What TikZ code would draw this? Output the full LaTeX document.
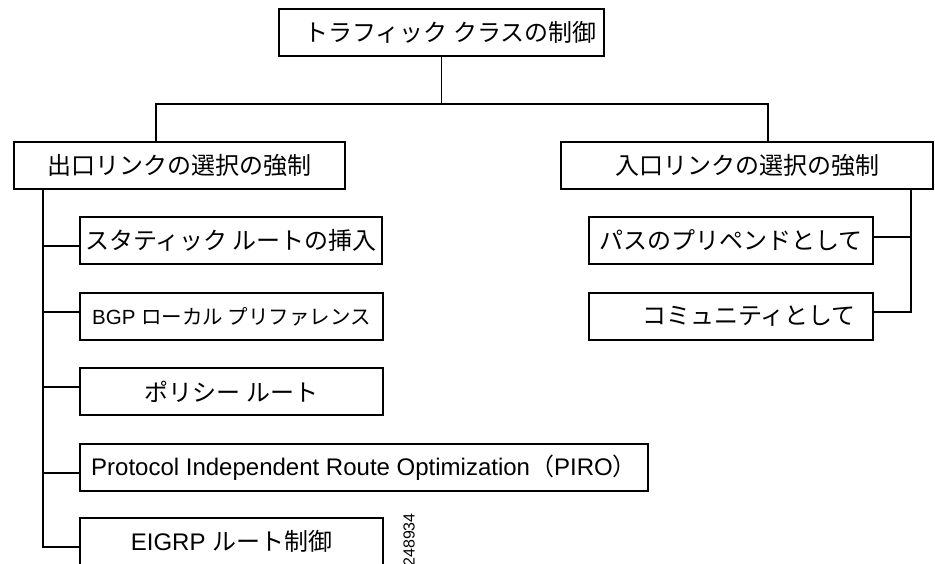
\documentclass[tikz,border=0pt]{standalone}
\usepackage{fontspec}
\setmainfont{Liberation Sans}
\newfontfamily\jp{Noto Sans CJK JP}
\begin{document}
\begin{tikzpicture}[x=1pt,y=-1pt,
  box/.style={draw, line width=1.1pt, inner sep=0pt, font=\fontsize{24}{28}\selectfont},
  conn/.style={line width=1.1pt}]
\useasboundingbox (0,0) rectangle (935,563);
\clip (0,0) rectangle (935,563);
% boxes
\node[box, minimum width=325pt, minimum height=47pt] (top) at (441.5,32.5) {\hspace{18pt}\jp トラフィック クラスの制御};
\node[box, minimum width=331pt, minimum height=47pt] (L) at (179.5,165.5) {\jp 出口リンクの選択の強制};
\node[box, minimum width=372pt, minimum height=47pt] (R) at (747,165.5) {\jp 入口リンクの選択の強制};
\node[box, minimum width=302pt, minimum height=47pt] (s1) at (231,240.5) {\jp スタティック ルートの挿入};
\node[box, minimum width=303pt, minimum height=47pt, font=\fontsize{20.5}{24}\selectfont] (s2) at (231.5,316.5) {BGP {\jp ローカル プリファレンス}};
\node[box, minimum width=303pt, minimum height=47pt] (s3) at (231.5,391.5) {\jp ポリシー ルート};
\node[box, minimum width=568pt, minimum height=47pt, font=\fontsize{24}{28}\selectfont] (s4) at (364,467.5) {Protocol Independent Route Optimization{\jp （}PIRO{\jp ）}\hspace{10pt}};
\node[box, minimum width=303pt, minimum height=47pt] (s5) at (231.5,541.5) {EIGRP {\jp ルート制御}};
\node[box, minimum width=284pt, minimum height=47pt] (r1) at (731,240.5) {\jp パスのプリペンドとして};
\node[box, minimum width=284pt, minimum height=47pt] (r2) at (731,316.5) {\hspace{36pt}\jp コミュニティとして};
% connectors
\coordinate (hL) at (156,104);
\coordinate (hR) at (768,104);
\draw[conn] (top.south) -- (top.south |- hL);
\draw[conn] (hL |- L.north) -- (hL) -- (hR) -- (hR |- R.north);
\coordinate (b1) at (43,246);
\coordinate (b2) at (43,312);
\coordinate (b3) at (43,387);
\coordinate (b4) at (43,473);
\coordinate (b5) at (43,547);
\draw[conn] (b5 |- L.south) -- (b5) -- (b5 -| s5.west);
\draw[conn] (b1) -- (b1 -| s1.west);
\draw[conn] (b2) -- (b2 -| s2.west);
\draw[conn] (b3) -- (b3 -| s3.west);
\draw[conn] (b4) -- (b4 -| s4.west);
\coordinate (c1) at (911,237);
\coordinate (c2) at (911,312);
\draw[conn] (c2 |- R.south) -- (c2) -- (c2 -| r2.east);
\draw[conn] (c1) -- (c1 -| r1.east);
% figure number (cut off at the lower edge, as in the reference)
\node[rotate=90, anchor=east, inner sep=0pt, font=\fontsize{16}{16}\selectfont] (fig) at (409,513) {248934};
\end{tikzpicture}
\end{document}
